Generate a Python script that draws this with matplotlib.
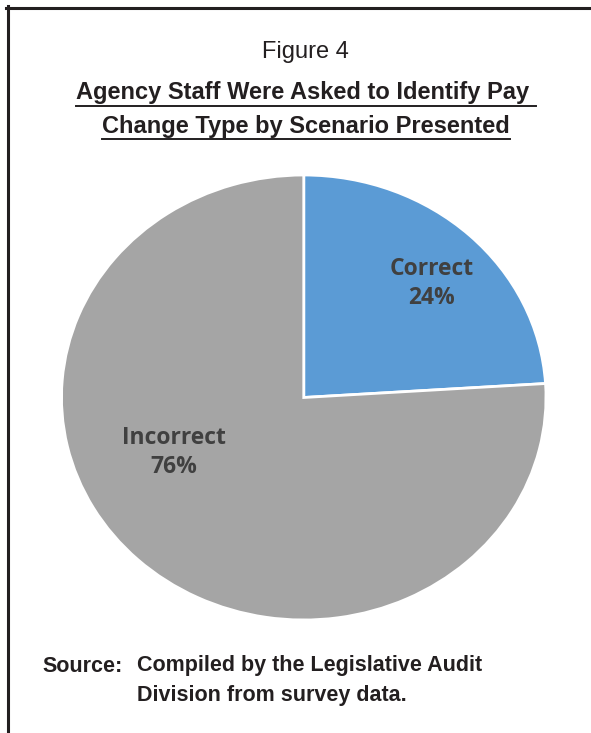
import matplotlib.pyplot as plt
from matplotlib.lines import Line2D

labels = ['Correct', 'Incorrect']
shares = [24, 76]
colors = ['#5B9BD5', '#A5A5A5']

W, H = 591, 733
fig = plt.figure(figsize=(W / 100, H / 100), dpi=100)

# frame lines (left and top only)
fig.add_artist(Line2D([7.5 / W, 7.5 / W], [0, 1 - 6 / H], color='#231f20', lw=2.2))
fig.add_artist(Line2D([6 / W, 1], [1 - 7.5 / H, 1 - 7.5 / H], color='#231f20', lw=2.2))

narrow = ['Liberation Sans Narrow', 'Liberation Sans', 'DejaVu Sans']

fig.text(305 / W, 1 - 52 / H, 'Figure 4', ha='center', va='center',
         fontsize=17, family=narrow, color='#231f20')
title_lines = ['Agency Staff Were Asked to Identify Pay ',
               'Change Type by Scenario Presented']
title_y = [93, 126]
title_texts = []
for s, y in zip(title_lines, title_y):
    t = fig.text(306 / W, 1 - y / H, s, ha='center', va='center',
                 fontsize=17, fontweight='bold', family=narrow, color='#231f20')
    title_texts.append(t)

src = dict(ha='left', va='center', fontsize=15.5, fontweight='bold',
           family=narrow, color='#231f20')
fig.text(42 / W, 1 - 666 / H, 'Source:', **src)
fig.text(137 / W, 1 - 666 / H, 'Compiled by the Legislative Audit', **src)
fig.text(137 / W, 1 - 695 / H, 'Division from survey data.', **src)

# pie (slightly wider than tall, as in the original)
ax = fig.add_axes([61.5 / W, 1 - 620 / H, 484.5 / W, 445 / H])
wedges, _ = ax.pie(shares, colors=colors, startangle=90, counterclock=False,
                   wedgeprops=dict(edgecolor='white', linewidth=2))
ax.set_aspect('auto')
ax.set_xlim(-1.0, 1.0)
ax.set_ylim(-1.0, 1.0)

label_pos = [(0.529, 0.512), (-0.536, -0.247)]
for lab, val, (x, y) in zip(labels, shares, label_pos):
    ax.text(x, y, f'{lab}\n{val}%', ha='center', va='center', fontsize=16.5,
            fontweight='bold', family=['Open Sans', 'DejaVu Sans'], color='#404040',
            linespacing=1.3)

# underline the title lines
fig.canvas.draw()
r = fig.canvas.get_renderer()
for t in title_texts:
    bb = t.get_window_extent(renderer=r)
    y = bb.y0 - 1
    fig.add_artist(Line2D([bb.x0 / W, bb.x1 / W], [y / H, y / H],
                          color='#231f20', lw=1.4))

fig.savefig('out.png', dpi=100)
